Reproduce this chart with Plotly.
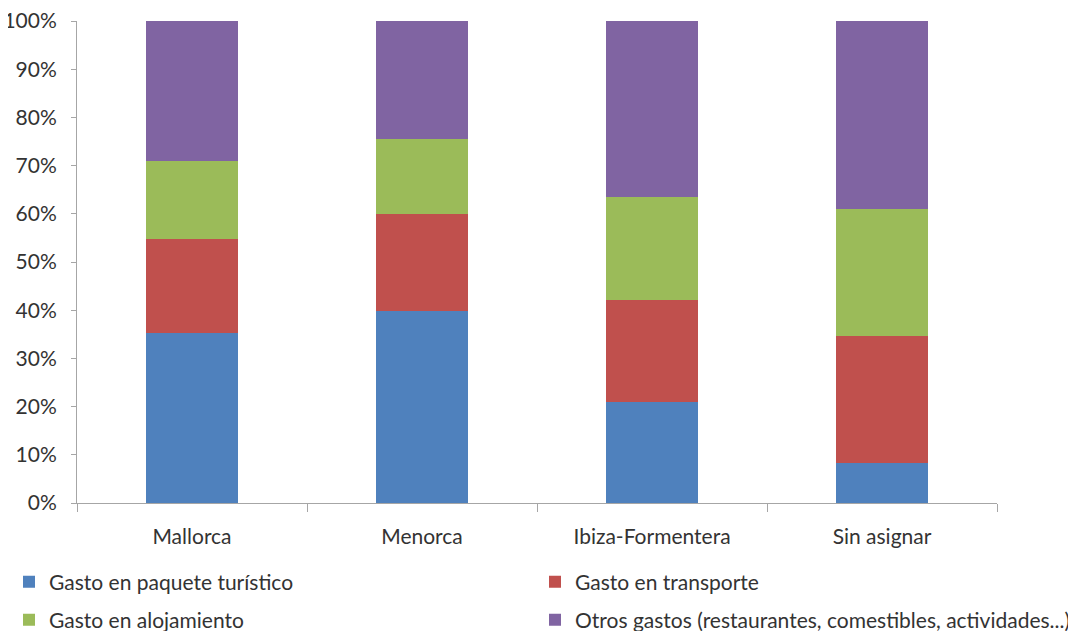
import plotly.graph_objects as go

categories = ["Mallorca", "Menorca", "Ibiza-Formentera", "Sin asignar"]
paquete = [35.2, 39.8, 21.0, 8.3]
transporte = [19.5, 20.2, 21.1, 26.3]
alojamiento = [16.3, 15.5, 21.4, 26.4]
otros = [29.0, 24.5, 36.5, 39.0]

series_names = [
    "Gasto en paquete turístico",
    "Gasto en transporte",
    "Gasto en alojamiento",
    "Otros gastos (restaurantes, comestibles, actividades...)",
]
series_values = [paquete, transporte, alojamiento, otros]
colors = ["#4F81BD", "#C0504D", "#9BBB59", "#8064A2"]
legend_ids = ["legend", "legend2", "legend3", "legend4"]

FONT = "Lato, 'Open Sans', sans-serif"
TXT = "#333333"
AX = "#A6A6A6"
FS = 21
W, H = 1076, 631

fig = go.Figure()
for name, vals, col, lg in zip(series_names, series_values, colors, legend_ids):
    fig.add_trace(go.Bar(
        x=categories, y=vals, name=name, legend=lg,
        marker=dict(color=col, line=dict(width=0)),
    ))

def leg(px, py):
    return dict(
        orientation="h",
        xref="container", yref="container",
        x=px / W, y=1 - py / H,
        xanchor="left", yanchor="middle",
        font=dict(family=FONT, size=FS, color=TXT),
        bgcolor="rgba(0,0,0,0)",
    )

fig.update_layout(
    barmode="stack",
    bargap=0.6,
    width=W, height=H,
    margin=dict(l=69, r=87, t=13, b=136, autoexpand=False),
    paper_bgcolor="white", plot_bgcolor="white",
    font=dict(family=FONT, size=FS, color=TXT),
    showlegend=True,
    legend=leg(1, 574),
    legend2=leg(527, 574),
    legend3=leg(1, 612),
    legend4=leg(527, 612),
)
fig.update_xaxes(
    showline=True, linecolor=AX, linewidth=1,
    ticks="outside", tickson="boundaries", ticklen=8, tickcolor=AX,
    ticklabelstandoff=15,
    showgrid=False, zeroline=False,
)
fig.update_yaxes(
    range=[0, 100], dtick=10, ticksuffix="%",
    showline=True, linecolor=AX, linewidth=1,
    ticks="outside", ticklen=5, tickcolor=AX,
    ticklabelstandoff=10, ticklabeloverflow="allow",
    showgrid=False, zeroline=False,
)

fig.write_html("out.html")
